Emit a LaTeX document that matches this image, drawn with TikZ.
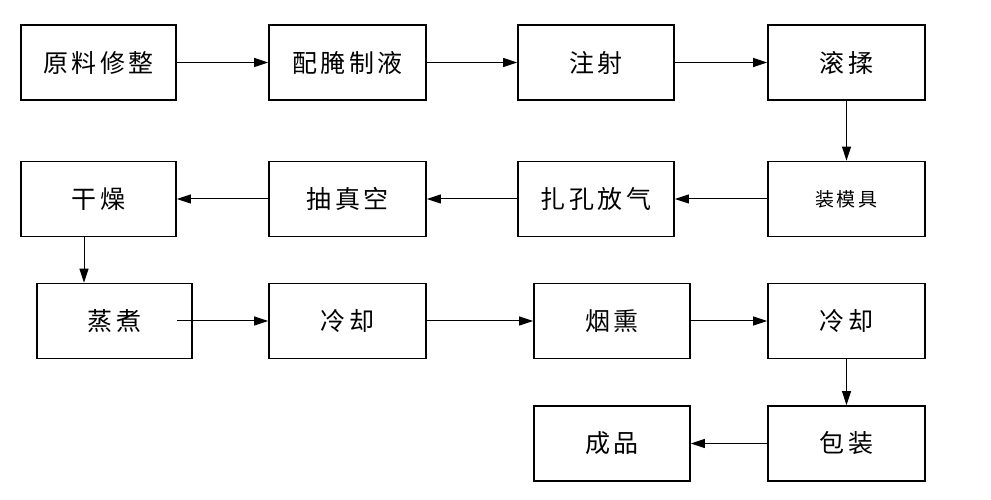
\documentclass[tikz,border=0pt]{standalone}
\usepackage{fontspec}
\setmainfont{Noto Sans CJK SC}[LetterSpace=14]
\usetikzlibrary{arrows.meta}
\tikzset{
  box/.style={draw=black, line width=1.8pt, minimum height=75pt, inner sep=0pt, font=\fontsize{25}{28}\selectfont},
  flow/.style={draw=black, line width=1pt, -{Triangle[length=14pt,width=9pt]}}
}
\begin{document}
\begin{tikzpicture}[x=1pt,y=1pt]
\fill[white] (0,0) rectangle (991,500);
\useasboundingbox (0,0) rectangle (991,500);
% row 1
\node[box, minimum width=155pt] (a1) at (98.5,437.5) {原料修整};
\node[box, minimum width=157pt] (a2) at (347.5,437.5) {配腌制液};
\node[box, minimum width=156pt] (a3) at (596,437.5) {注射};
\node[box, minimum width=157pt] (a4) at (846.5,437.5) {滚揉};
% row 2
\node[box, minimum width=155pt] (b1) at (98.5,301) {干燥};
\node[box, minimum width=157pt] (b2) at (347.5,301) {抽真空};
\node[box, minimum width=156pt] (b3) at (596,301) {扎孔放气};
\node[box, minimum width=157pt, font=\fontsize{19}{22}\selectfont] (b4) at (846.5,301) {装模具};
% row 3
\node[box, minimum width=155pt] (c1) at (114.5,179) {蒸煮};
\node[box, minimum width=157pt] (c2) at (347.5,179) {冷却};
\node[box, minimum width=156pt] (c3) at (612,179) {烟熏};
\node[box, minimum width=157pt] (c4) at (846.5,179) {冷却};
% row 4
\node[box, minimum width=156pt] (d1) at (612,56.5) {成品};
\node[box, minimum width=157pt] (d2) at (846.5,56.5) {包装};
\coordinate (vx) at (84,0);
% connectors
\draw[flow] (a1.east) -- (a2.west);
\draw[flow] (a2.east) -- (a3.west);
\draw[flow] (a3.east) -- (a4.west);
\draw[flow] (a4.south) -- (b4.north);
\draw[flow] (b4.west) -- (b3.east);
\draw[flow] (b3.west) -- (b2.east);
\draw[flow] (b2.west) -- (b1.east);
\draw[flow] (b1.south -| vx) -- (c1.north -| vx);
\draw[flow] ([xshift=-16pt]c1.east) -- (c2.west);
\draw[flow] (c2.east) -- (c3.west);
\draw[flow] (c3.east) -- (c4.west);
\draw[flow] (c4.south) -- (d2.north);
\draw[flow] (d2.west) -- (d1.east);
\end{tikzpicture}
\end{document}
